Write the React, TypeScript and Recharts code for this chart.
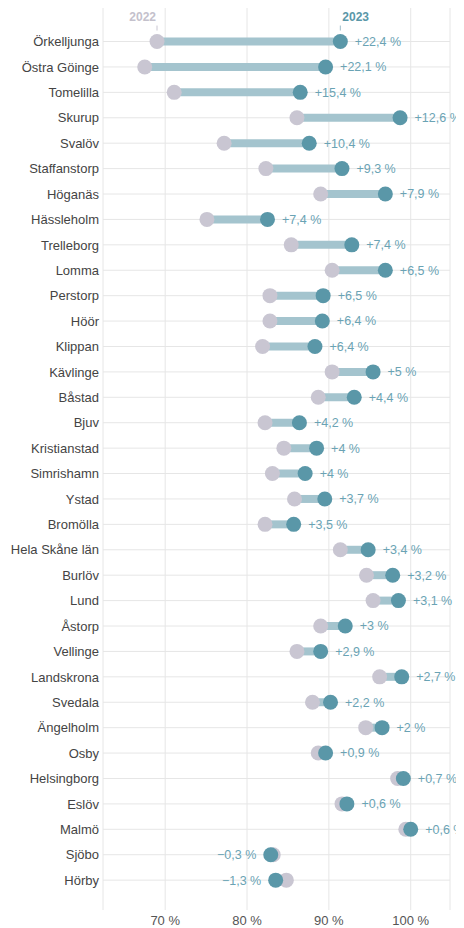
import { BarChart, Bar, XAxis, YAxis, CartesianGrid } from 'recharts';

const municipalities = [
  'Örkelljunga', 'Östra Göinge', 'Tomelilla', 'Skurup', 'Svalöv', 'Staffanstorp', 'Höganäs',
  'Hässleholm', 'Trelleborg', 'Lomma', 'Perstorp', 'Höör', 'Klippan', 'Kävlinge', 'Båstad',
  'Bjuv', 'Kristianstad', 'Simrishamn', 'Ystad', 'Bromölla', 'Hela Skåne län', 'Burlöv', 'Lund',
  'Åstorp', 'Vellinge', 'Landskrona', 'Svedala', 'Ängelholm', 'Osby', 'Helsingborg', 'Eslöv',
  'Malmö', 'Sjöbo', 'Hörby',
];

const share2022 = [
  69.0, 67.5, 71.1, 86.1, 77.2, 82.3, 89.0, 75.1, 85.4, 90.4, 82.8, 82.8, 81.9, 90.4, 88.7,
  82.2, 84.5, 83.1, 85.8, 82.2, 91.4, 94.6, 95.4, 89.0, 86.1, 96.2, 88.0, 94.5, 88.7, 98.4,
  91.6, 99.4, 83.2, 84.8,
];

const share2023 = [
  91.4, 89.6, 86.5, 98.7, 87.6, 91.6, 96.9, 82.5, 92.8, 96.9, 89.3, 89.2, 88.3, 95.4, 93.1,
  86.4, 88.5, 87.1, 89.5, 85.7, 94.8, 97.8, 98.5, 92.0, 89.0, 98.9, 90.2, 96.5, 89.6, 99.1,
  92.2, 100.0, 82.9, 83.5,
];

const changes = [
  22.4, 22.1, 15.4, 12.6, 10.4, 9.3, 7.9, 7.4, 7.4, 6.5, 6.5, 6.4, 6.4, 5, 4.4,
  4.2, 4, 4, 3.7, 3.5, 3.4, 3.2, 3.1, 3, 2.9, 2.7, 2.2, 2, 0.9, 0.7,
  0.6, 0.6, -0.3, -1.3,
];

const xTicks = [70, 80, 90, 100];

const data = municipalities.map((name, i) => ({
  name,
  y2022: share2022[i],
  y2023: share2023[i],
  change: changes[i],
}));

const C22 = '#c9c6d2';
const C23 = '#5a97a8';
const BAR = '#a4c4ce';
const LABEL = '#6aa3b4';

const fmtChange = (v: number) =>
  `${v < 0 ? '\u2212' : '+'}${String(Math.abs(v)).replace('.', ',')} %`;

const RowLine = (props: any) => {
  const { x, y, width, height } = props;
  const cy = y + height / 2;
  return <line x1={x} x2={x + width} y1={cy} y2={cy} stroke="#e6e6e6" strokeWidth={1} />;
};

const NameTick = (props: any) => {
  const { x, y, payload } = props;
  return (
    <text x={x} y={y} dy="0.35em" textAnchor="end" fill="#444" fontSize={13}>
      {payload.value}
    </text>
  );
};

const Dumbbell = (props: any) => {
  const { x, y, width, height, payload } = props;
  const cy = y + height / 2;
  const left = Math.min(x, x + width);
  const right = Math.max(x, x + width);
  const rising = payload.y2023 >= payload.y2022;
  const x22 = rising ? left : right;
  const x23 = rising ? right : left;
  const r = 7.5;
  const neg = payload.change < 0;
  const first = payload.name === municipalities[0];

  return (
    <g>
      <line x1={left} x2={right} y1={cy} y2={cy} stroke={BAR} strokeWidth={8} />
      <circle cx={x22} cy={cy} r={r} fill={C22} />
      <circle cx={x23} cy={cy} r={r} fill={C23} />
      <text
        x={neg ? left - r - 7 : right + r + 7}
        y={cy}
        dy="0.35em"
        textAnchor={neg ? 'end' : 'start'}
        fill={LABEL}
        fontSize={12.5}
      >
        {fmtChange(payload.change)}
      </text>
      {first && (
        <g>
          <line x1={x22} x2={x22} y1={cy - 16} y2={cy - 11} stroke="#c9c6d2" />
          <line x1={x23} x2={x23} y1={cy - 16} y2={cy - 11} stroke="#9fbfca" />
          <text x={x22 - 1} y={cy - 21} textAnchor="end" fill="#c4c1cc" fontSize={12} fontWeight="bold">
            2022
          </text>
          <text x={x23 + 2} y={cy - 21} textAnchor="start" fill={C23} fontSize={12} fontWeight="bold">
            2023
          </text>
        </g>
      )}
    </g>
  );
};

export default function App() {
  return (
    <div style={{ fontFamily: '"Liberation Sans", Arial, sans-serif' }}>
      <BarChart
        width={456}
        height={920}
        data={data}
        layout="vertical"
        margin={{ top: 0, right: 14, bottom: 0, left: 0 }}
        style={{ overflow: 'visible' }}
      >
        <CartesianGrid horizontal={false} stroke="#e6e6e6" />
        <XAxis
          type="number"
          domain={[62.4, 104.8]}
          ticks={xTicks}
          tickFormatter={(v) => `${v} %`}
          axisLine={false}
          tickLine={false}
          tickSize={0}
          tickMargin={6}
          height={18}
          tick={{ fill: '#555', fontSize: 13 }}
        />
        <YAxis
          type="category"
          dataKey="name"
          width={95}
          interval={0}
          axisLine={false}
          tickLine={false}
          tickSize={0}
          tickMargin={4}
          padding={{ top: 21, bottom: 17 }}
          tick={NameTick}
        />
        <Bar
          dataKey={(d: any) => [d.y2022, d.y2023]}
          shape={Dumbbell}
          background={RowLine}
          isAnimationActive={false}
        />
      </BarChart>
    </div>
  );
}
